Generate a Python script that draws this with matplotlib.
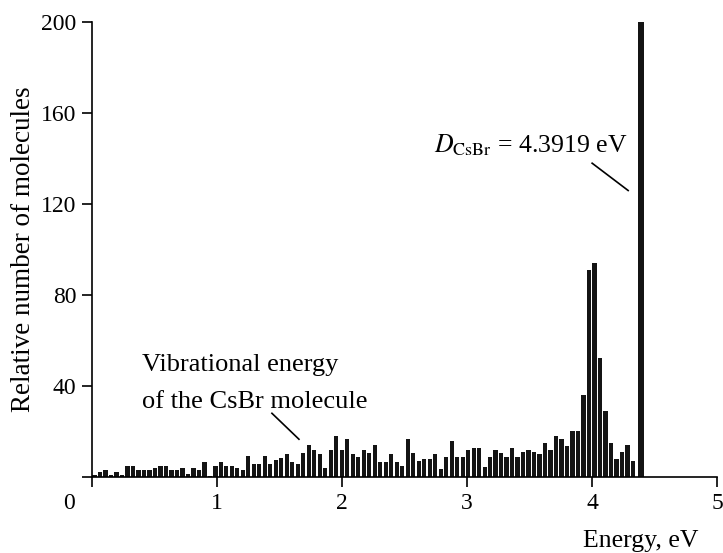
import numpy as np
import matplotlib
matplotlib.use("Agg")
import matplotlib.pyplot as plt

plt.rcParams["font.family"] = ["Liberation Serif", "DejaVu Serif"]
plt.rcParams["mathtext.fontset"] = "stix"

# Dissociation energy of CsBr and histogram of vibrational energies
D_CSBR = 4.3919
N_BINS = 100
counts = [
    1, 2.5, 3.2, 1.2, 2.5, 1.2, 5, 5, 3.4, 3.4,
    3.4, 4.2, 5, 5, 3.4, 3.4, 4.1, 1.6, 4.1, 3.4,
    6.8, 0.5, 5, 6.8, 5, 5, 4.2, 3.4, 9.5, 6,
    6, 9.5, 6, 7.7, 8.6, 10.4, 6.8, 6, 10.8, 14.1,
    11.9, 10.1, 4, 11.9, 18, 11.9, 17, 10.1, 8.9, 11.9,
    10.8, 14.1, 6.7, 6.7, 10.1, 6.9, 4.8, 17, 10.8, 7,
    7.8, 7.8, 10.1, 3.5, 8.9, 16, 8.9, 8.9, 11.9, 12.9,
    12.9, 4.5, 8.9, 11.9, 10.8, 8.9, 12.9, 8.9, 11, 11.9,
    11, 10, 14.9, 11.9, 18, 17, 13.9, 20.1, 20.1, 36.3,
    91, 94, 52.5, 29, 15, 8, 11, 14, 7, 0,
]
dissociated = 201  # molecules beyond the dissociation limit (off scale)

x_ticks = [0, 1, 2, 3, 4, 5]
x_tick_labels = ["", "1", "2", "3", "4", "5"]
y_ticks = [0, 40, 80, 120, 160, 200]
y_tick_labels = ["", "40", "80", "120", "160", "200"]

bin_w = D_CSBR / N_BINS
centers = (np.arange(N_BINS) + 0.5) * bin_w

fig = plt.figure(figsize=(7.23, 5.53), dpi=100)
ax = fig.add_axes([0.127, 0.137, 0.865, 0.823])

ax.bar(centers, counts, width=bin_w * 0.76, color="#141414", linewidth=0)
ax.bar([D_CSBR], [dissociated], width=bin_w * 1.04, color="#141414", linewidth=0)

ax.set_xlim(0, 5)
ax.set_ylim(0, 200)
ax.spines["top"].set_visible(False)
ax.spines["right"].set_visible(False)
for s in ("left", "bottom"):
    ax.spines[s].set_linewidth(1.2)

ax.set_xticks(x_ticks)
ax.set_xticklabels(x_tick_labels)
ax.set_yticks(y_ticks)
ax.set_yticklabels(y_tick_labels)
ax.tick_params(direction="out", length=7, width=1.2, labelsize=17, pad=4)

# shared origin label in the corner, left of the axes origin
ax.annotate("0", xy=(0, 0), xycoords=("data", "axes fraction"),
            xytext=(-16.5, -11), textcoords="offset points",
            ha="center", va="top", fontsize=17)

ax.set_ylabel("Relative number of molecules", fontsize=19.5, labelpad=4)
ax.text(4.85, -0.115, "Energy, eV", transform=ax.get_xaxis_transform(),
        ha="right", va="top", fontsize=18.5)

ax.text(0.40, 46.6, "Vibrational energy", fontsize=19, ha="left", va="baseline")
ax.text(0.40, 30.3, "of the CsBr molecule", fontsize=19, ha="left", va="baseline")
ax.plot([1.44, 1.656], [28.1, 16.7], color="black", lw=1.2)

ax.text(3.51, 146, r"$D_{\mathrm{CsBr}}$ = 4.3919 eV", fontsize=18.5,
        ha="center", va="center")
ax.plot([4.0, 4.288], [138, 126], color="black", lw=1.2)

fig.savefig("out.png", dpi=100)
